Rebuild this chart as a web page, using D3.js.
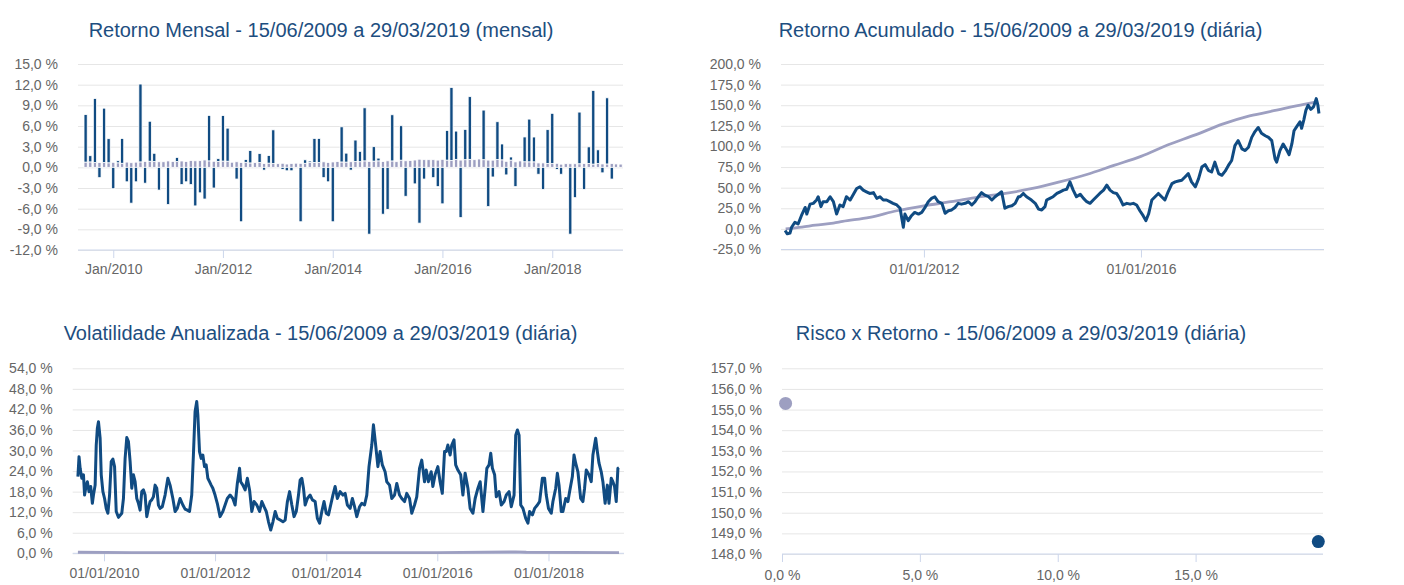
<!DOCTYPE html>
<html>
<head>
<meta charset="utf-8">
<script src="https://cdn.jsdelivr.net/npm/d3@7"></script>
<style>
  body { margin: 0; background: #fff; }
  text { font-family: "Liberation Sans", Arial, sans-serif; }
</style>
</head>
<body>
<svg id="chart" width="1404" height="585"></svg>
<script>
// ---------- data ----------
// monthly returns (%), one bar per month Jun/2009 .. Mar/2019, dated at month end
const monthlyFund = [6.9, 0.9, 9.3, -1.5, 7.9, 3.5, -3.1,
  0.3, 3.6, -2.1, -5.2, -2.1, 11.3, -2.3, 5.8, 1.2, -3.3, 0, -5.4,
  0, 0.6, -2.5, -2.1, -2.5, -5.6, -3.7, -4.6, 6.6, -3.0, 0.4, 6.6,
  4.8, 0, -1.7, -7.9, 0.4, 1.8, 0, 1.3, -0.4, 1.1, 4.9, 0,
  -0.3, -0.5, -0.5, 0, -7.9, 0.5, 0.2, 3.5, 3.5, -1.5, -2.1, -7.9,
  0, 5.1, 1.3, -0.4, 3.1, 1.5, 7.7, -9.7, 2.1, 0.4, -6.8, -6.1,
  6.7, 0, 5.0, -4.2, 0, -2.4, -8.1, -1.7, 0, -1.5, -2.8, -5.3,
  4.3, 10.6, 4.1, -7.3, 4.4, 9.1, 0, 0, 7.2, -5.7, -1.4, 5.5,
  2.3, -1.1, 0.45, -2.8, 0, 3.6, 6.2, 3.6, -1.0, -3.2, 4.9, 7.3,
  -0.3, -1.0, 0, -9.7, -4.4, 7.5, -3.2, 2.4, 10.7, 2.0, -0.8, 9.6,
  -1.7, 0, 0];
const monthlyBench = [0.76, 0.79, 0.69, 0.69, 0.69, 0.66, 0.73,
  0.66, 0.59, 0.76, 0.67, 0.75, 0.79, 0.86, 0.89, 0.84, 0.81, 0.81, 0.93,
  0.86, 0.84, 0.92, 0.84, 0.99, 0.95, 0.97, 1.07, 0.94, 0.88, 0.86, 0.91,
  0.89, 0.74, 0.81, 0.70, 0.73, 0.64, 0.68, 0.69, 0.54, 0.61, 0.54, 0.53,
  0.59, 0.48, 0.54, 0.60, 0.58, 0.59, 0.71, 0.70, 0.70, 0.80, 0.71, 0.78,
  0.84, 0.78, 0.76, 0.81, 0.86, 0.82, 0.94, 0.86, 0.90, 0.94, 0.84, 0.95,
  0.93, 0.82, 1.04, 0.95, 0.98, 1.06, 1.18, 1.11, 1.11, 1.11, 1.05, 1.16,
  1.05, 1.00, 1.16, 1.05, 1.11, 1.16, 1.11, 1.21, 1.11, 1.05, 1.04, 1.12,
  1.09, 0.87, 1.05, 0.79, 0.93, 0.81, 0.80, 0.80, 0.64, 0.64, 0.57, 0.54,
  0.58, 0.46, 0.53, 0.52, 0.52, 0.52, 0.54, 0.57, 0.47, 0.54, 0.49, 0.49,
  0.54, 0.49, 0.47];
const monthlyTicks = [2010, 2012, 2014, 2016, 2018];

// accumulated return (%), [decimal year, value]
const accFund = [[2009.44,-2],[2009.48,-6],[2009.53,-5],[2009.56,2],[2009.62,8],[2009.68,6],[2009.74,16],[2009.81,26],[2009.84,18],[2009.90,30],[2009.96,31],[2010.02,35],[2010.05,39],[2010.10,27],[2010.14,33],[2010.21,33],[2010.27,39],[2010.33,33],[2010.39,18],[2010.45,29],[2010.51,27],[2010.57,39],[2010.64,35],[2010.70,42],[2010.76,49],[2010.82,51],[2010.88,47],[2010.94,45],[2011.00,43],[2011.07,44],[2011.13,37],[2011.19,39],[2011.25,35],[2011.31,35],[2011.37,33],[2011.43,31],[2011.50,29],[2011.56,25],[2011.62,2],[2011.65,18],[2011.71,10],[2011.77,16],[2011.83,20],[2011.90,18],[2011.96,20],[2012.02,26],[2012.08,33],[2012.14,37],[2012.20,39],[2012.26,33],[2012.33,31],[2012.39,19],[2012.45,22],[2012.51,23],[2012.57,26],[2012.63,31],[2012.69,30],[2012.76,31],[2012.82,33],[2012.88,29],[2012.94,33],[2013.00,39],[2013.06,44],[2013.12,41],[2013.19,39],[2013.25,35],[2013.31,39],[2013.37,42],[2013.43,45],[2013.49,25],[2013.55,27],[2013.62,28],[2013.68,31],[2013.74,39],
  [2013.77,39],[2013.83,43],[2013.89,39],[2013.98,35],[2014.05,31],[2014.11,24],[2014.17,23],[2014.23,27],[2014.26,35],[2014.32,37],[2014.38,39],[2014.45,43],[2014.51,45],[2014.57,47],[2014.63,48],[2014.69,57],[2014.75,47],[2014.81,39],[2014.88,42],[2014.94,37],[2015.00,33],[2015.06,31],[2015.12,35],[2015.18,39],[2015.24,43],[2015.31,47],[2015.37,53],[2015.43,47],[2015.49,44],[2015.55,43],[2015.61,37],[2015.67,29],[2015.74,31],[2015.80,30],[2015.86,31],[2015.92,29],[2015.98,22],[2016.04,16],[2016.09,10],[2016.14,18],[2016.20,35],[2016.26,39],[2016.32,43],[2016.38,39],[2016.44,35],[2016.50,45],[2016.57,55],[2016.63,57],[2016.69,58],[2016.75,59],[2016.81,63],[2016.87,67],[2016.93,57],[2017.00,51],[2017.06,61],[2017.12,75],[2017.18,78],[2017.24,71],[2017.30,69],[2017.36,81],[2017.43,67],[2017.49,65],[2017.55,70],[2017.61,77],[2017.67,83],[2017.73,101],[2017.79,107],[2017.86,97],[2017.92,95],[2017.98,99],[2018.04,111],[2018.10,118],[2018.16,123],[2018.22,116],[2018.29,113],[2018.35,111],[2018.41,107],[2018.47,85],[2018.50,81],[2018.56,95],[2018.62,103],[2018.69,95],[2018.73,90],[2018.78,103],[2018.82,119],[2018.87,124],[2018.93,130],[2018.96,122],[2019.00,132],[2019.04,144],[2019.08,150],[2019.13,145],[2019.18,148],[2019.23,158],[2019.26,150],[2019.28,140]];
const accBench = [[2009.45,0],[2009.75,2.2],[2010.0,4.5],[2010.33,7],[2010.5,9],[2011.0,14],[2011.5,22],[2012.0,28],[2012.5,33],[2013.0,38.5],[2013.5,43],[2014.0,49],[2014.5,57],[2015.0,66],[2015.5,77],[2016.0,88],[2016.5,102],[2017.0,114],[2017.5,127],[2018.0,137],[2018.5,144],[2019.0,151],[2019.24,154]];
const accTicks = [2012, 2016];

// annualised volatility (%), [decimal year, value]
const volFund = [[2009.53,22.4],[2009.55,28.2],[2009.57,24.8],[2009.60,21.9],[2009.63,22.9],[2009.65,17],[2009.68,19.9],[2009.70,20.9],[2009.73,18],[2009.76,19.5],[2009.79,14.6],[2009.81,17],[2009.84,19.9],[2009.86,31.6],[2009.88,36.5],[2009.90,38.4],[2009.93,33.6],[2009.95,22.9],[2009.98,18],[2010.01,16],[2010.04,13.1],[2010.07,11.7],[2010.10,17],[2010.13,26.8],[2010.16,27.5],[2010.19,25.3],[2010.22,12.2],[2010.26,10.5],[2010.32,11.7],[2010.35,16],[2010.38,27.7],[2010.41,33.8],[2010.44,32.6],[2010.47,26.8],[2010.50,19],[2010.53,22.9],[2010.56,20.9],[2010.59,16],[2010.62,14.6],[2010.65,12.6],[2010.68,18],[2010.71,18.5],[2010.74,17],[2010.77,10.7],[2010.80,13.1],[2010.83,15.1],[2010.86,15.6],[2010.89,16.5],[2010.92,19.9],[2010.95,19],[2010.98,14.1],[2011.01,13.1],[2011.05,13.6],[2011.10,17],[2011.15,21.9],[2011.19,19.9],[2011.24,16],[2011.28,12.2],[2011.32,13.1],[2011.37,16],[2011.42,14.1],[2011.46,12.9],[2011.50,12.6],[2011.54,12.2],[2011.58,17],[2011.61,28.7],[2011.64,41.3],[2011.67,44.3],[2011.69,40.4],[2011.72,29.7],[2011.75,27.7],[2011.78,28.7],[2011.81,25.3],[2011.84,25.8],[2011.87,21.9],[2011.90,20.9],[2011.93,19.9],[2011.96,19],[2012.00,17],[2012.04,14.6],[2012.09,10.7],[2012.14,12.2],[2012.18,14.1],[2012.22,16],[2012.27,17],[2012.32,16],[2012.36,14.1],[2012.40,20.4],[2012.44,24.8],[2012.46,20.9],[2012.50,19.9],[2012.54,18.5],[2012.58,21.9],[2012.62,18.5],[2012.66,12.2],[2012.70,15.1],[2012.75,14.1],[2012.80,12.2],[2012.84,15.1],[2012.88,13.6],[2012.92,12.2],[2012.96,9.2],[2013.00,6.8],[2013.04,9.2],[2013.08,12.2],[2013.12,10.2],[2013.17,9.7],[2013.22,9.2],[2013.26,9.7],[2013.30,15.1],[2013.34,18],[2013.38,14.1],[2013.42,10.7],[2013.46,12.2],[2013.50,17],[2013.53,21.4],[2013.56,21.9],[2013.59,19],[2013.62,14.1],[2013.66,16],[2013.71,17],[2013.75,15.6],[2013.80,15.1],[2013.84,10.2],[2013.88,8.8],[2013.92,12.2],[2013.96,15.1],[2014.00,11.7],[2014.04,11.2],[2014.08,14.1],
  [2014.12,17],[2014.16,19.5],[2014.20,16],[2014.25,18],[2014.30,17],[2014.34,17.5],[2014.38,14.1],[2014.43,13.1],[2014.47,16],[2014.51,13.6],[2014.55,10.7],[2014.60,13.6],[2014.64,14.6],[2014.69,14.1],[2014.73,17],[2014.77,25.3],[2014.82,31.6],[2014.85,37.5],[2014.89,31.6],[2014.93,25.3],[2014.97,29.7],[2015.01,25.8],[2015.06,23.8],[2015.09,20.9],[2015.14,19.9],[2015.18,16],[2015.23,17],[2015.27,20.4],[2015.32,17],[2015.36,16],[2015.41,15.1],[2015.45,17.5],[2015.50,16],[2015.54,11.7],[2015.59,14.1],[2015.63,16.5],[2015.68,24.8],[2015.72,27.2],[2015.77,20.9],[2015.80,24.3],[2015.84,20.9],[2015.89,23.8],[2015.92,19.5],[2015.96,22.9],[2016.01,25.3],[2016.05,20.9],[2016.09,17.5],[2016.13,29.7],[2016.16,29.7],[2016.19,31.6],[2016.23,28.7],[2016.26,31.6],[2016.30,33.1],[2016.33,25.8],[2016.37,24.3],[2016.42,22.9],[2016.46,17],[2016.50,23.4],[2016.55,19],[2016.59,13.1],[2016.64,11.7],[2016.68,16],[2016.73,19],[2016.77,20.9],[2016.82,12.2],[2016.86,19],[2016.89,24.8],[2016.93,25.8],[2016.96,29.2],[2016.99,24.8],[2017.03,22.9],[2017.06,16.5],[2017.11,18],[2017.15,14.1],[2017.20,15.1],[2017.24,17],[2017.29,18],[2017.33,13.6],[2017.38,17],[2017.41,34.5],[2017.44,36],[2017.47,34.5],[2017.50,14.1],[2017.54,13.1],[2017.59,10.2],[2017.63,8.8],[2017.66,12.2],[2017.71,11.2],[2017.75,13.1],[2017.80,14.1],[2017.84,15.1],[2017.89,21.9],[2017.93,21.9],[2017.96,17],[2018.00,13.1],[2018.05,11.7],[2018.08,15.1],[2018.13,19],[2018.16,23.4],[2018.19,19.9],[2018.23,12.2],[2018.26,12.2],[2018.31,16],[2018.35,15.1],[2018.38,18],[2018.43,22.4],[2018.46,28.7],[2018.49,26.3],[2018.53,23.8],[2018.58,16],[2018.62,15.1],[2018.65,19],[2018.68,24.3],[2018.73,22.9],[2018.77,20.9],[2018.80,28.7],[2018.85,33.6],[2018.88,29.7],[2018.91,26.3],[2018.95,23.8],[2018.98,20.9],[2019.02,14.6],[2019.06,19.9],[2019.09,14.6],[2019.13,21.9],[2019.16,20.9],[2019.19,19.5],[2019.22,15.1],[2019.25,24.8],[2019.27,25]];
const volBench = [[2009.53,0.3],[2010.5,0.2],[2012.0,0.2],[2014.0,0.2],[2016.0,0.2],[2017.4,0.4],[2017.6,0.3],[2019.27,0.2]];
const volTicks = [2010, 2012, 2014, 2016, 2018];

// risk x return
const riskNames = ["Fundo", "CDI"];
const riskVol = [19.45, 0.13];
const riskRet = [148.6, 155.3];

const titles = [
  "Retorno Mensal - 15/06/2009 a 29/03/2019 (mensal)",
  "Retorno Acumulado - 15/06/2009 a 29/03/2019 (diária)",
  "Volatilidade Anualizada - 15/06/2009 a 29/03/2019 (diária)",
  "Risco x Retorno - 15/06/2009 a 29/03/2019 (diária)"
];

// ---------- style ----------
const BLUE = "#104b82";
const LAV = "#9d9fc1";
const GRID = "#e6e6e6";
const AXIS = "#ccd6eb";
const TITLE = "#1d4e80";

const svg = d3.select("#chart");
const fmtPct = v => v.toFixed(1).replace(".", ",") + " %";

function yearToDate(y) {
  const yr = Math.floor(y);
  const a = new Date(yr, 0, 1), b = new Date(yr + 1, 0, 1);
  return new Date(+a + (y - yr) * (b - a));
}

// gridlines + y labels
function drawY(y, ticks, x0, x1) {
  svg.append("g")
    .attr("transform", `translate(${x0},0)`)
    .call(d3.axisLeft(y).tickValues(ticks).tickSize(-(x1 - x0)).tickPadding(20).tickFormat(fmtPct))
    .call(g => {
      g.select(".domain").remove();
      g.selectAll(".tick line").attr("stroke", GRID);
      g.selectAll(".tick text").attr("fill", "#666").style("font-size", "14px");
    });
}

// bottom axis line + ticks + labels
function drawX(scale, ticks, fmt, yPos, x0, x1, padding) {
  svg.append("g")
    .attr("transform", `translate(0,${yPos})`)
    .call(d3.axisBottom(scale).tickValues(ticks).tickSize(8).tickPadding(padding).tickFormat(fmt))
    .call(g => {
      g.select(".domain").remove();
      g.selectAll(".tick line").attr("stroke", AXIS);
      g.selectAll(".tick text").attr("fill", "#666").style("font-size", "14px");
    });
  svg.append("line").attr("x1", x0).attr("x2", x1).attr("y1", yPos).attr("y2", yPos)
    .attr("stroke", AXIS).attr("stroke-width", 1);
}

function drawTitle(text, cx, y) {
  svg.append("text").attr("x", cx).attr("y", y).attr("text-anchor", "middle")
    .attr("fill", TITLE).style("font-size", "20px").text(text);
}

// ---------- 1. monthly returns ----------
function drawMonthly() {
  const x0 = 78, x1 = 623;
  const x = d3.scaleTime().domain([yearToDate(2009.357), yearToDate(2019.29)]).range([x0, x1]);
  const y = d3.scaleLinear().domain([-12, 15]).range([250, 64]);
  drawY(y, d3.range(-12, 16, 3), x0, x1);
  drawX(x, monthlyTicks.map(t => new Date(t, 0, 1)), d => "Jan/" + d.getFullYear(), 250, x0, x1, 6);

  // bars are dated at the end of each month
  const monthDates = d3.timeMonth.range(new Date(2009, 6, 1), new Date(2019, 4, 1));
  const bw = 3.2;
  const g = svg.append("g");
  g.selectAll(".bench").data(monthDates).join("rect")
    .attr("class", "bench")
    .attr("x", d => x(d) - bw / 2).attr("width", bw)
    .attr("y", (d, i) => y(monthlyBench[i]))
    .attr("height", (d, i) => y(0) - y(monthlyBench[i]))
    .attr("fill", LAV).attr("stroke", "#fff").attr("stroke-width", 0.8);
  // stacked: positive on top of benchmark, negative below zero
  g.selectAll(".fund").data(monthDates).join("rect")
    .attr("class", "fund")
    .attr("x", d => x(d) - bw / 2).attr("width", bw)
    .attr("y", (d, i) => {
      const v = monthlyFund[i];
      return v >= 0 ? y(monthlyBench[i] + v) : y(0);
    })
    .attr("height", (d, i) => {
      const v = monthlyFund[i];
      return v >= 0 ? y(monthlyBench[i]) - y(monthlyBench[i] + v) : y(v) - y(0);
    })
    .attr("fill", BLUE).attr("stroke", "#fff").attr("stroke-width", 0.8);

  drawTitle(titles[0], 321, 37);
}

// ---------- 2. accumulated ----------
function drawAccum() {
  const x0 = 781, x1 = 1324;
  const x = d3.scaleTime().domain([yearToDate(2009.364), yearToDate(2019.373)]).range([x0, x1]);
  const y = d3.scaleLinear().domain([-25, 200]).range([249.5, 64]);
  drawY(y, d3.range(-25, 201, 25), x0, x1);
  drawX(x, accTicks.map(t => new Date(t, 0, 1)), d => "01/01/" + d.getFullYear(), 249.5, x0, x1, 7);

  const line = d3.line().x(d => x(yearToDate(d[0]))).y(d => y(d[1]));
  svg.append("path").attr("d", line.curve(d3.curveMonotoneX)(accBench))
    .attr("fill", "none").attr("stroke", LAV).attr("stroke-width", 2.8);
  svg.append("path").attr("d", line.curve(d3.curveLinear)(accFund))
    .attr("fill", "none").attr("stroke", BLUE).attr("stroke-width", 3)
    .attr("stroke-linejoin", "round");

  drawTitle(titles[1], 1020.5, 37);
}

// ---------- 3. volatility ----------
function drawVol() {
  const x0 = 72.7, x1 = 624;
  const x = d3.scaleTime().domain([yearToDate(2009.436), yearToDate(2019.36)]).range([x0, x1]);
  const y = d3.scaleLinear().domain([0, 54]).range([553.3, 368.3]);
  drawY(y, d3.range(0, 55, 6), x0, x1);
  drawX(x, volTicks.map(t => new Date(t, 0, 1)), d => "01/01/" + d.getFullYear(), 553.3, x0, x1, 7);

  const line = d3.line().x(d => x(yearToDate(d[0]))).y(d => y(d[1]));
  svg.append("path").attr("d", line(volBench))
    .attr("fill", "none").attr("stroke", LAV).attr("stroke-width", 2.8);
  svg.append("path").attr("d", line(volFund))
    .attr("fill", "none").attr("stroke", BLUE).attr("stroke-width", 3)
    .attr("stroke-linejoin", "round");

  drawTitle(titles[2], 320.5, 340);
}

// ---------- 4. risk x return ----------
function drawRisk() {
  const x0 = 782, x1 = 1323;
  const x = d3.scaleLinear().domain([0, 19.62]).range([x0, x1]);
  const y = d3.scaleLinear().domain([148, 157]).range([554, 368.3]);
  drawY(y, d3.range(148, 158, 1), x0, x1);
  drawX(x, [0, 5, 10, 15], fmtPct, 554, x0, x1, 8);

  svg.append("g").selectAll("circle").data(riskNames).join("circle")
    .attr("cx", (d, i) => x(riskVol[i]))
    .attr("cy", (d, i) => y(riskRet[i]))
    .attr("r", 6.5)
    .attr("fill", (d, i) => i === 0 ? BLUE : LAV);

  drawTitle(titles[3], 1021, 340);
}

drawMonthly();
drawAccum();
drawVol();
drawRisk();
</script>
</body>
</html>
